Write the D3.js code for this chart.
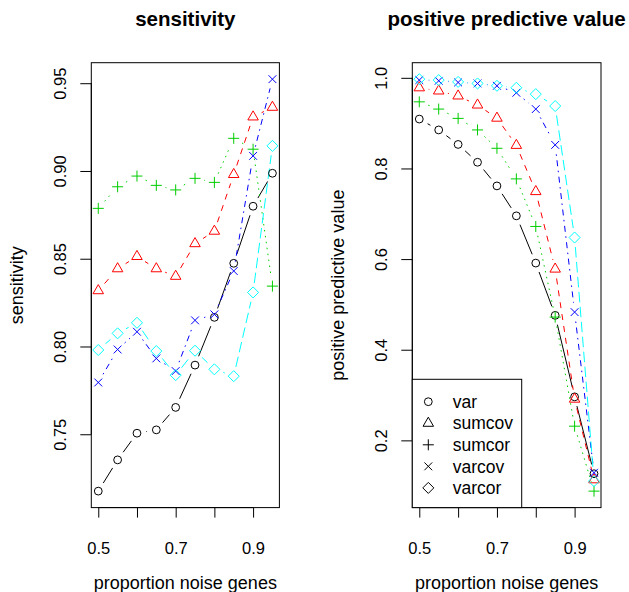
<!DOCTYPE html>
<html>
<head>
<meta charset="utf-8">
<script src="https://cdn.jsdelivr.net/npm/d3@7"></script>
<style>
  body { margin: 0; background: #fff; }
  svg { display: block; font-family: "Liberation Sans", Arial, Helvetica, sans-serif; }
</style>
</head>
<body>
<div id="chart"></div>
<script>
// proportion of noise genes on the x axis
var noise = [0.5, 0.55, 0.6, 0.65, 0.7, 0.75, 0.8, 0.85, 0.9, 0.95];
var methods = ["var", "sumcov", "sumcor", "varcov", "varcor"];

// sensitivity, one list per method
var sensVar    = [0.7176, 0.7354, 0.7506, 0.7525, 0.7653, 0.7894, 0.8166, 0.8474, 0.8799, 0.8987];
var sensSumcov = [0.8318, 0.8443, 0.8513, 0.8443, 0.8400, 0.8586, 0.8657, 0.8980, 0.9308, 0.9363];
var sensSumcor = [0.8787, 0.8910, 0.8971, 0.8918, 0.8892, 0.8958, 0.8935, 0.9186, 0.9124, 0.8344];
var sensVarcov = [0.7795, 0.7983, 0.8084, 0.7932, 0.7860, 0.8149, 0.8183, 0.8430, 0.9086, 0.9523];
var sensVarcor = [0.7980, 0.8075, 0.8135, 0.7974, 0.7837, 0.7976, 0.7870, 0.7831, 0.8308, 0.9143];

// positive predictive value, one list per method
var ppvVar    = [0.909, 0.885, 0.853, 0.8137, 0.7615, 0.6954, 0.5912, 0.4758, 0.296, 0.1264];
var ppvSumcov = [0.978, 0.971, 0.960, 0.940, 0.911, 0.851, 0.749, 0.578, 0.291, 0.113];
var ppvSumcor = [0.947, 0.931, 0.9105, 0.885, 0.8445, 0.777, 0.672, 0.472, 0.2313, 0.088];
var ppvVarcov = [0.995, 0.9934, 0.9898, 0.9876, 0.9824, 0.967, 0.931, 0.852, 0.483, 0.1286];
var ppvVarcor = [0.997, 0.995, 0.991, 0.9876, 0.9824, 0.978, 0.964, 0.9377, 0.6476, 0.11];

var xTicks = [0.5, 0.6, 0.7, 0.8, 0.9];
var xLabelled = [0.5, 0.7, 0.9];
var sensTicks = [0.75, 0.80, 0.85, 0.90, 0.95];
var ppvTicks = [0.2, 0.4, 0.6, 0.8, 1.0];

// R palette / lty / pch, in method order
var colors = ["#000000", "#FF0000", "#00CD00", "#0000FF", "#00FFFF"];
var dashes = [null, "6,6", "1.5,4.5", "1.5,4.5,6,4.5", "10.5,4.5"];
var shapes = ["circle", "triangle", "plus", "cross", "diamond"];

var W = 629, H = 592;
var svg = d3.select("#chart").append("svg")
    .attr("width", W)
    .attr("height", H);

var plotTop = 62.7, plotBottom = 507.6;
var tickFont = 16.5, labFont = 18, mainFont = 20.5;

// R style axis limits: data range padded by 4%
var pad = function(ext) {
    var d = (ext[1] - ext[0]) * 0.04;
    return [ext[0] - d, ext[1] + d];
};

var marker = function(shape) {
    var b = 3.9;
    if (shape == "circle") {
        return "M" + b + ",0A" + b + "," + b + " 0 1,1 " + (-b) + ",0A" + b + "," + b + " 0 1,1 " + b + ",0Z";
    }
    if (shape == "triangle") {
        var r = 1.5551 * b, xc = 1.3468 * b, yc = 0.7776 * b;
        return "M0," + (-r) + "L" + xc + "," + yc + "L" + (-xc) + "," + yc + "Z";
    }
    if (shape == "plus") {
        var p = 1.4142 * b;
        return "M" + (-p) + ",0H" + p + "M0," + (-p) + "V" + p;
    }
    if (shape == "cross") {
        return "M" + (-b) + "," + (-b) + "L" + b + "," + b + "M" + (-b) + "," + b + "L" + b + "," + (-b);
    }
    var q = 1.4142 * b;
    return "M0," + (-q) + "L" + q + ",0L0," + q + "L" + (-q) + ",0Z";
};

function flat(arrs) {
    return arrs.reduce(function(a, b) { return a.concat(b); }, []);
}

var drawPanel = function(opts) {
    var x = d3.scaleLinear().domain(pad(d3.extent(noise))).range([opts.left, opts.right]);
    var y = d3.scaleLinear().domain(pad(d3.extent(flat(opts.series)))).range([plotBottom, plotTop]);
    var g = svg.append("g");

    /* lines with gaps around the points (type = "b") */
    var gap = 9.5;
    opts.series.forEach(function(vals, k) {
        var segs = [];
        for (var i = 0; i < vals.length - 1; i++) {
            var x0 = x(noise[i]), y0 = y(vals[i]), x1 = x(noise[i + 1]), y1 = y(vals[i + 1]);
            var len = Math.sqrt((x1 - x0) * (x1 - x0) + (y1 - y0) * (y1 - y0));
            if (len <= 2 * gap) continue;
            var ux = (x1 - x0) / len, uy = (y1 - y0) / len;
            segs.push("M" + (x0 + ux * gap) + "," + (y0 + uy * gap) + "L" + (x1 - ux * gap) + "," + (y1 - uy * gap));
        }
        g.append("path")
            .attr("d", segs.join(""))
            .attr("fill", "none")
            .attr("stroke", colors[k])
            .attr("stroke-width", 1)
            .attr("stroke-dasharray", dashes[k]);
    });

    /* points */
    opts.series.forEach(function(vals, k) {
        g.append("g").selectAll("path")
            .data(vals)
            .enter().append("path")
                .attr("transform", function(d, i) { return "translate(" + x(noise[i]) + "," + y(d) + ")"; })
                .attr("d", marker(shapes[k]))
                .attr("fill", "none")
                .attr("stroke", colors[k])
                .attr("stroke-width", 1);
    });

    /* box */
    g.append("rect")
        .attr("x", opts.left).attr("y", plotTop)
        .attr("width", opts.right - opts.left).attr("height", plotBottom - plotTop)
        .attr("fill", "none").attr("stroke", "#000").attr("stroke-width", 1);

    /* axes */
    var xa = g.append("g")
        .attr("transform", "translate(0," + plotBottom + ")")
        .call(d3.axisBottom(x).tickValues(xTicks).tickSize(10).tickSizeOuter(0)
            .tickFormat(function(d) { return xLabelled.indexOf(d) >= 0 ? d3.format(".1f")(d) : ""; }));
    xa.select(".domain").attr("d", "M" + x(xTicks[0]) + ",0H" + x(xTicks[xTicks.length - 1]));
    xa.selectAll("text").attr("y", 46).attr("dy", null)
        .style("font-size", tickFont + "px").attr("fill", "#000");

    var ya = g.append("g")
        .attr("transform", "translate(" + opts.left + ",0)")
        .call(d3.axisLeft(y).tickValues(opts.ticks).tickSize(11).tickSizeOuter(0)
            .tickFormat(d3.format(opts.fmt)));
    ya.select(".domain").attr("d", "M0," + y(opts.ticks[0]) + "V" + y(opts.ticks[opts.ticks.length - 1]));
    ya.selectAll("text")
        .attr("transform", "rotate(-90)")
        .attr("x", 0).attr("y", -25).attr("dy", null)
        .attr("text-anchor", "middle")
        .style("font-size", tickFont + "px").attr("fill", "#000");
    g.selectAll(".domain, .tick line").attr("stroke", "#000");

    /* titles */
    var cx = (opts.left + opts.right) / 2;
    g.append("text")
        .attr("x", cx).attr("y", 26)
        .attr("text-anchor", "middle")
        .style("font-size", mainFont + "px").style("font-weight", "bold")
        .text(opts.title);
    g.append("text")
        .attr("x", cx).attr("y", 589)
        .attr("text-anchor", "middle")
        .style("font-size", labFont + "px")
        .text("proportion noise genes");
    g.append("text")
        .attr("transform", "translate(" + (opts.left - 68.5) + "," + ((plotTop + plotBottom) / 2) + ") rotate(-90)")
        .attr("text-anchor", "middle")
        .style("font-size", labFont + "px")
        .text(opts.ylab);
};

drawPanel({
    left: 91.3, right: 279.4,
    series: [sensVar, sensSumcov, sensSumcor, sensVarcov, sensVarcor],
    ticks: sensTicks, fmt: ".2f",
    title: "sensitivity", ylab: "sensitivity"
});

drawPanel({
    left: 412.3, right: 601,
    series: [ppvVar, ppvSumcov, ppvSumcor, ppvVarcov, ppvVarcor],
    ticks: ppvTicks, fmt: ".1f",
    title: "positive predictive value", ylab: "positive predictive value"
});

/* legend, bottom left of the second panel */
var leg = svg.append("g");
leg.append("rect")
    .attr("x", 412.3).attr("y", 379.3)
    .attr("width", 521.7 - 412.3).attr("height", plotBottom - 379.3)
    .attr("fill", "#fff").attr("stroke", "#000").attr("stroke-width", 1);
methods.forEach(function(m, i) {
    var yy = 401.7 + i * 21.55;
    leg.append("path")
        .attr("transform", "translate(428.3," + yy + ")")
        .attr("d", marker(shapes[i]))
        .attr("fill", "none").attr("stroke", "#000");
    leg.append("text")
        .attr("x", 452.7).attr("y", yy + 6.2)
        .style("font-size", "17.5px")
        .text(m);
});
</script>
</body>
</html>
